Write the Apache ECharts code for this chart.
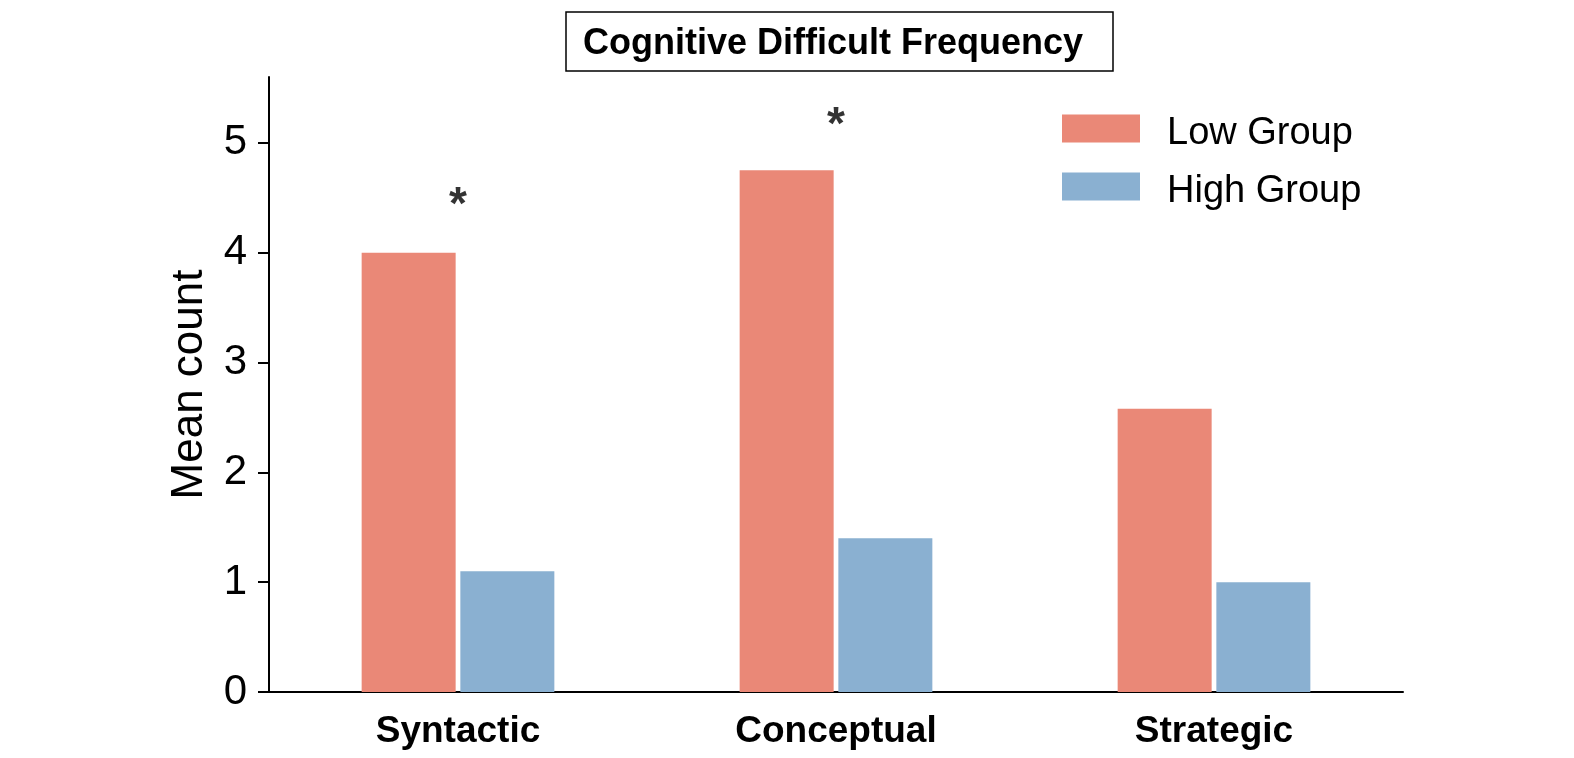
<!DOCTYPE html>
<html style="height: 100%">
<head>
  <meta charset="utf-8">
</head>
<body style="height: 100%; margin: 0">
  <div id="container" style="height: 100%"></div>

  <script type="text/javascript" src="https://cdn.jsdelivr.net/npm/echarts@6/dist/echarts.min.js"></script>
  <script type="text/javascript">
    var dom = document.getElementById("container");
    var myChart = echarts.init(dom);

    // data
    const categories = ['Syntactic', 'Conceptual', 'Strategic'];
    const lowGroup = [4.0, 4.75, 2.58];
    const highGroup = [1.1, 1.4, 1.0];
    // significance markers (y position of the asterisk, '-' = none)
    const starPos = [4.53, 5.26, '-'];
    const yTicks = [0, 1, 2, 3, 4, 5];

    var font = "'Liberation Sans', Arial, sans-serif";

    var option = {
      animation: false,
      backgroundColor: '#ffffff',
      textStyle: {
        fontFamily: font,
        color: '#000'
      },
      title: {
        text: 'Cognitive Difficult Frequency',
        left: 566,
        top: 12,
        padding: [14, 30, 9, 17],
        borderColor: '#000',
        borderWidth: 1.5,
        textStyle: {
          fontFamily: font,
          fontSize: 36,
          fontWeight: 'bold',
          lineHeight: 36,
          color: '#000'
        }
      },
      legend: {
        data: ['Low Group', 'High Group'],
        orient: 'vertical',
        left: 1057,
        top: 99,
        icon: 'rect',
        itemWidth: 78,
        itemHeight: 28,
        itemGap: 9,
        itemStyle: { borderWidth: 0 },
        formatter: function (name) {
          return '{t|' + name + '}';
        },
        textStyle: {
          fontFamily: font,
          fontSize: 38,
          color: '#000',
          rich: {
            t: {
              fontFamily: font,
              fontSize: 38,
              color: '#000',
              lineHeight: 28,
              padding: [11, 0, 0, 22]
            }
          }
        }
      },
      grid: {
        left: 269,
        right: 171,
        top: 77,
        bottom: 66
      },
      xAxis: {
        type: 'category',
        data: categories,
        axisTick: { show: false },
        axisLine: {
          lineStyle: { color: '#000', width: 2 }
        },
        axisLabel: {
          fontFamily: font,
          fontSize: 37,
          fontWeight: 'bold',
          color: '#000',
          margin: 21
        }
      },
      yAxis: {
        type: 'value',
        min: 0,
        max: 5.6,
        interval: 1,
        name: 'Mean count',
        nameLocation: 'middle',
        nameGap: 57,
        nameTextStyle: {
          fontFamily: font,
          fontSize: 44,
          color: '#000'
        },
        splitLine: { show: false },
        axisLine: {
          show: true,
          lineStyle: { color: '#000', width: 2 }
        },
        axisTick: {
          show: true,
          length: 11,
          customValues: yTicks,
          lineStyle: { color: '#000', width: 2 }
        },
        axisLabel: {
          customValues: yTicks,
          fontFamily: font,
          fontSize: 42,
          color: '#000',
          margin: 22
        }
      },
      series: [
        {
          name: 'Low Group',
          type: 'bar',
          data: lowGroup,
          barWidth: 94,
          barGap: '5%',
          itemStyle: { color: '#EA8877' }
        },
        {
          name: 'High Group',
          type: 'bar',
          data: highGroup,
          barWidth: 94,
          itemStyle: { color: '#8AB0D1' }
        },
        {
          name: 'sig',
          type: 'scatter',
          data: starPos,
          symbolSize: 1,
          itemStyle: { color: 'rgba(0,0,0,0)' },
          silent: true,
          label: {
            show: true,
            position: 'inside',
            formatter: '*',
            fontFamily: font,
            fontSize: 46,
            fontWeight: 'bold',
            color: '#000',
            offset: [0, 12]
          }
        }
      ]
    };

    if (option && typeof option === 'object') {
      myChart.setOption(option);
    }
  </script>
</body>
</html>
